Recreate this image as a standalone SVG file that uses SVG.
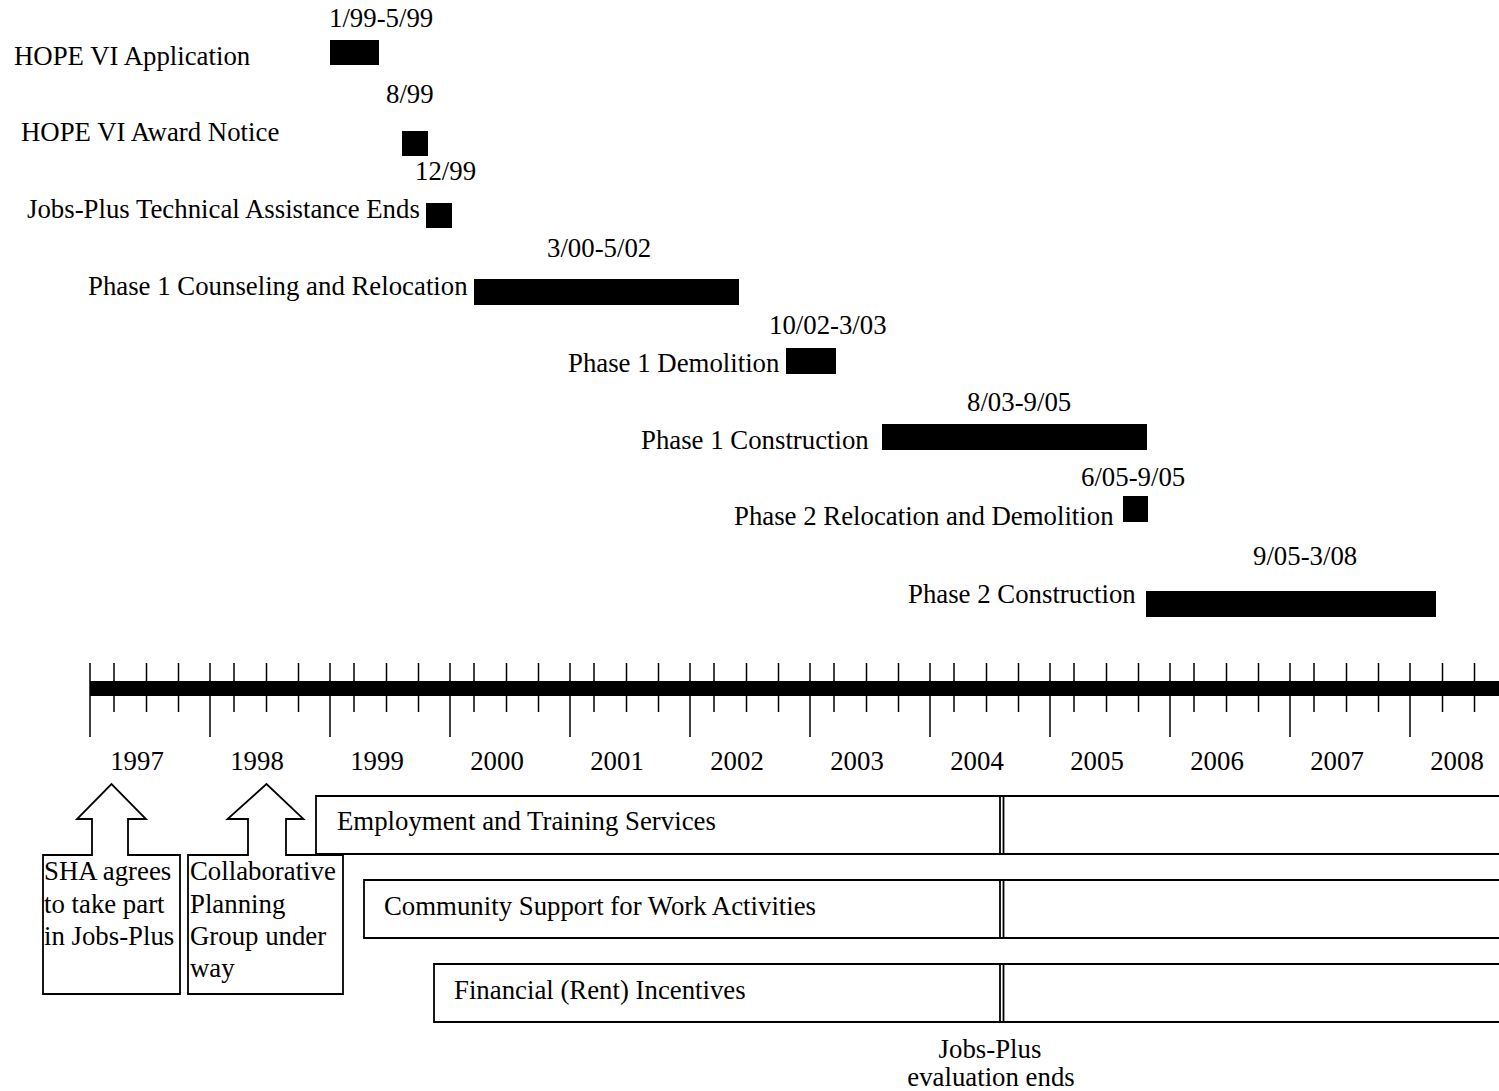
<svg xmlns="http://www.w3.org/2000/svg" width="1499" height="1091" viewBox="0 0 1499 1091">
<style>
text{font-family:"Liberation Serif","Times New Roman",serif;font-size:26.8px;fill:#000}
.bar{fill:#000}
.tk{stroke:#000;stroke-width:1.5}
.box{fill:#fff;stroke:#000;stroke-width:1.8}
.ln{stroke:#000;stroke-width:1.8;fill:none}
.yr{text-anchor:middle}
</style>
<rect width="1499" height="1091" fill="#fff"/>
<g id="activities">
<g id="hope-app"><text x="14" y="65">HOPE VI Application</text><rect class="bar" x="330" y="40" width="49" height="25"/><text x="329" y="27">1/99-5/99</text></g>
<g id="hope-award"><text x="21" y="141">HOPE VI Award Notice</text><rect class="bar" x="402" y="131" width="26" height="25"/><text x="386" y="103">8/99</text></g>
<g id="jp-ta"><text x="27" y="218">Jobs-Plus Technical Assistance Ends</text><rect class="bar" x="426" y="203" width="26" height="25"/><text x="415" y="180">12/99</text></g>
<g id="p1-counsel"><text x="88" y="295">Phase 1 Counseling and Relocation</text><rect class="bar" x="474" y="279" width="265" height="26"/><text x="547" y="257">3/00-5/02</text></g>
<g id="p1-demo"><text x="568" y="372">Phase 1 Demolition</text><rect class="bar" x="786" y="348" width="50" height="26"/><text x="769" y="334">10/02-3/03</text></g>
<g id="p1-constr"><text x="641" y="449">Phase 1 Construction</text><rect class="bar" x="882" y="424" width="265" height="26"/><text x="967" y="411">8/03-9/05</text></g>
<g id="p2-reloc"><text x="734" y="525">Phase 2 Relocation and Demolition</text><rect class="bar" x="1123" y="496" width="25" height="26"/><text x="1081" y="486">6/05-9/05</text></g>
<g id="p2-constr"><text x="908" y="603">Phase 2 Construction</text><rect class="bar" x="1146" y="591" width="290" height="26"/><text x="1253" y="565">9/05-3/08</text></g>
</g>
<g id="timeline">
<rect class="bar" x="90" y="681" width="1409" height="15"/>
<path class="tk" d="M90 663V737M210 663V737M330 663V737M450 663V737M570 663V737M690 663V737M810 663V737M930 663V737M1050 663V737M1170 663V737M1290 663V737M1410 663V737"/>
<path class="tk" d="M114 663V712M146.5 663V712M178.5 663V712M234 663V712M266.5 663V712M298.5 663V712M354 663V712M386.5 663V712M418.5 663V712M474 663V712M506.5 663V712M538.5 663V712M594 663V712M626.5 663V712M658.5 663V712M714 663V712M746.5 663V712M778.5 663V712M834 663V712M866.5 663V712M898.5 663V712M954 663V712M986.5 663V712M1018.5 663V712M1074 663V712M1106.5 663V712M1138.5 663V712M1194 663V712M1226.5 663V712M1258.5 663V712M1314 663V712M1346.5 663V712M1378.5 663V712M1442.5 663V712M1474.5 663V712"/>
<text class="yr" x="137" y="770">1997</text><text class="yr" x="257" y="770">1998</text><text class="yr" x="377" y="770">1999</text><text class="yr" x="497" y="770">2000</text><text class="yr" x="617" y="770">2001</text><text class="yr" x="737" y="770">2002</text><text class="yr" x="857" y="770">2003</text><text class="yr" x="977" y="770">2004</text><text class="yr" x="1097" y="770">2005</text><text class="yr" x="1217" y="770">2006</text><text class="yr" x="1337" y="770">2007</text><text class="yr" x="1457" y="770">2008</text>
</g>
<g id="callout-sha"><path class="box" d="M43 855H92V819H77L111.5 784L146 819H128V855H180V994H43Z"/><text x="44" y="880">SHA agrees</text><text x="44" y="913">to take part</text><text x="44" y="945">in Jobs-Plus</text></g>
<g id="callout-cpg"><path class="box" d="M188 855H248V819H227.5L266.5 784L303.5 819H286V855H343V994H188Z"/><text x="190" y="880">Collaborative</text><text x="190" y="913">Planning</text><text x="190" y="945">Group under</text><text x="190" y="977">way</text></g>
<g id="svc-employment"><path class="box" d="M1505 796H316V854H1505"/><text x="337" y="830">Employment and Training Services</text></g>
<g id="svc-community"><path class="box" d="M1505 880H364V938H1505"/><text x="384" y="915">Community Support for Work Activities</text></g>
<g id="svc-financial"><path class="box" d="M1505 964H434V1022H1505"/><text x="454" y="999">Financial (Rent) Incentives</text></g>
<g id="connectors">
<path class="ln" d="M1000 796V854M1003.5 796V854M1000 880V938M1003.5 880V938M1000 964V1022M1003.5 964V1022"/>
</g>
<g id="eval-end"><text class="yr" x="990" y="1058">Jobs-Plus</text><text class="yr" x="991" y="1086">evaluation ends</text></g>
</svg>
